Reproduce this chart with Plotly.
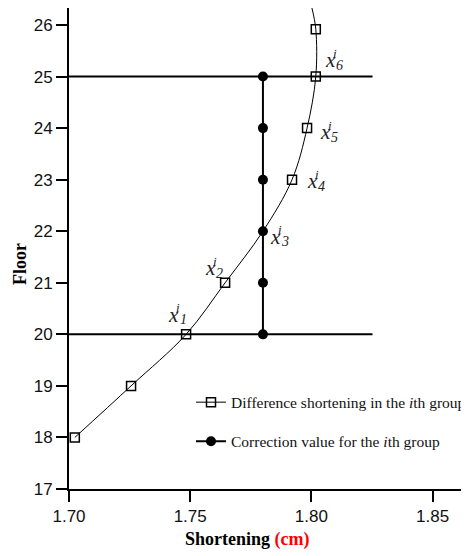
import plotly.graph_objects as go

# ---- data ----
diff_floor = [18, 19, 20, 21, 22, 23, 24, 25, 25.92, 26.33]
diff_short = [1.7024, 1.7256, 1.7483, 1.7644, 1.7800, 1.7920, 1.7982, 1.8018, 1.8018, 1.8002]
diff_marked = [1, 1, 1, 1, 0, 1, 1, 1, 1, 0]

corr_floor = [20, 21, 22, 23, 24, 25]
corr_short = [1.78, 1.78, 1.78, 1.78, 1.78, 1.78]

ref_floors = [20, 25]
ref_span = [1.70, 1.8252]

# label: (subscript, floor, shortening, dx, dy) offsets of the "x" glyph centre in px (screen, y down)
labels = [
    ("1", 20, 1.7483, -12.5, -17.7),
    ("2", 21, 1.7644, -15.0, -12.5),
    ("3", 22, 1.7800, 12.7, 7.7),
    ("4", 23, 1.7920, 20.0, 3.8),
    ("5", 24, 1.7982, 18.3, 6.3),
    ("6", 25, 1.8018, 14.6, -14.2),
]

x_ticks = [1.70, 1.75, 1.80, 1.85]
y_ticks = [17, 18, 19, 20, 21, 22, 23, 24, 25, 26]

SERIF = "Liberation Serif, Times New Roman, serif"
SANS = "Liberation Sans, Arial, sans-serif"

fig = go.Figure()

for f in ref_floors:
    fig.add_trace(go.Scatter(
        x=ref_span, y=[f, f], mode="lines",
        line=dict(color="black", width=2), showlegend=False, hoverinfo="skip"))

fig.add_trace(go.Scatter(
    x=diff_short, y=diff_floor, mode="lines+markers",
    line=dict(color="black", width=1, shape="spline", smoothing=1.0),
    marker=dict(symbol="square", size=9, color="rgba(0,0,0,0)",
                line=dict(width=1.5, color=["black" if m else "rgba(0,0,0,0)" for m in diff_marked])),
    name="Difference shortening in the <i>i</i>th group",
    legendgroup="a", legendrank=1, cliponaxis=False))

fig.add_trace(go.Scatter(
    x=corr_short, y=corr_floor, mode="lines+markers",
    line=dict(color="black", width=2),
    marker=dict(symbol="circle", size=10, color="black"),
    name="Correction value for the <i>i</i>th group",
    legendgroup="b", legendrank=2))

anns = []
for sub, fl, sh, dx, dy in labels:
    anns.append(dict(x=sh, y=fl, xref="x", yref="y", text="<i>x</i>", showarrow=False,
                     xanchor="center", yanchor="middle",
                     xshift=dx, yshift=-dy + 2, font=dict(family=SERIF, size=21, color="#222")))
    anns.append(dict(x=sh, y=fl, xref="x", yref="y", text="<i>i</i>", showarrow=False,
                     xanchor="center", yanchor="middle",
                     xshift=dx + 4.5, yshift=-(dy - 9), font=dict(family=SERIF, size=13, color="#222")))
    anns.append(dict(x=sh, y=fl, xref="x", yref="y", text="<i>" + sub + "</i>", showarrow=False,
                     xanchor="center", yanchor="middle",
                     xshift=dx + 9.5, yshift=-(dy + 3), font=dict(family=SERIF, size=14, color="#222")))

anns.append(dict(x=0.445, y=-0.1056, xref="paper", yref="paper", showarrow=False,
                 xanchor="center", yanchor="middle",
                 text="<b>Shortening <span style='color:red'>(cm)</span></b>",
                 font=dict(family=SERIF, size=18, color="black")))
anns.append(dict(x=-0.1225, y=0.468, xref="paper", yref="paper", showarrow=False,
                 xanchor="center", yanchor="middle",
                 text="<b>Floor</b>", textangle=-90,
                 font=dict(family=SERIF, size=18, color="black")))

# the page body has an 8px margin; margins compensate so the plot area lands where the reference has it
fig.update_layout(
    width=469, height=556,
    margin=dict(l=61, r=8, t=0, b=75),
    paper_bgcolor="white", plot_bgcolor="white",
    annotations=anns,
    legend=dict(x=0.305, y=0.215, xanchor="left", yanchor="top",
                traceorder="grouped", tracegroupgap=16,
                bgcolor="rgba(0,0,0,0)", borderwidth=0,
                font=dict(family=SERIF, size=15.5, color="#111")),
    xaxis=dict(range=[1.70, 1.865], tickvals=x_ticks, ticktext=[f"{v:.2f}" for v in x_ticks],
               showline=True, linecolor="black", linewidth=2, ticks="outside",
               ticklen=11, tickwidth=2, tickcolor="black", showgrid=False, zeroline=False,
               tickfont=dict(family=SANS, size=17, color="#111"), automargin=False),
    yaxis=dict(range=[17, 26.33], tickvals=y_ticks,
               showline=True, linecolor="black", linewidth=2, ticks="outside",
               ticklen=11, tickwidth=2, tickcolor="black", showgrid=False, zeroline=False,
               tickfont=dict(family=SANS, size=17, color="#111"), automargin=False),
)

fig.write_html("out.html")
